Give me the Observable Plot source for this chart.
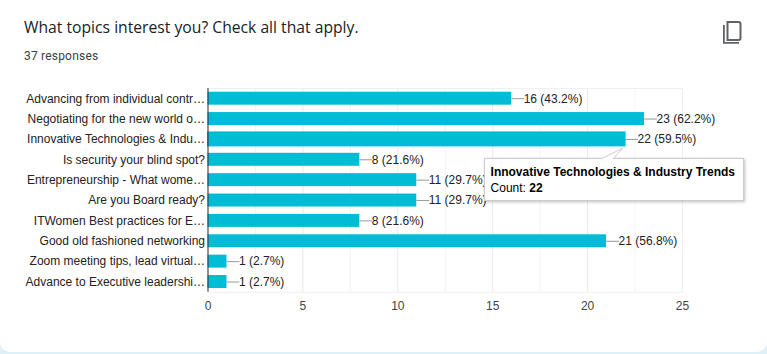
<!DOCTYPE html>
<html>
<head>
<meta charset="utf-8">
<script src="https://cdn.jsdelivr.net/npm/d3@7"></script>
<script src="https://cdn.jsdelivr.net/npm/@observablehq/plot@0.6"></script>
<style>
html,body{margin:0;padding:0;background:#fff;overflow:hidden}
#page{position:relative;width:767px;height:354px;overflow:hidden;background:#dff1f6}
#card{position:absolute;left:0;top:0;width:767px;height:352px;background:#fff;border-radius:0 0 10px 10px}
#title{position:absolute;left:24px;top:16px;font:15.7px "Open Sans",sans-serif;color:#202124;white-space:nowrap}
#sub{position:absolute;left:24px;top:49px;font:12px Roboto,sans-serif;color:#3c4043;white-space:nowrap;letter-spacing:.2px}
#chart{position:absolute;left:0;top:72px}
#chart svg{display:block;background:transparent}
#icon{position:absolute;left:719.5px;top:19.5px}
#tip{position:absolute;background:#fff;border:1px solid #ccc;box-shadow:1px 1px 3px rgba(0,0,0,.25);font:12px "Liberation Sans",Arial,sans-serif;color:#000;padding:5px 6px;line-height:16px;white-space:nowrap;box-sizing:border-box}
#tip b{font-weight:bold}
#ptr{position:absolute;overflow:visible}
</style>
</head>
<body>
<div id="page">
<div id="card"></div>
<div id="title">What topics interest you? Check all that apply.</div>
<div id="sub">37 responses</div>
<svg id="icon" width="24" height="24" viewBox="0 0 24 24"><path fill="#5f6368" d="M3 5h1.8v17H19v1.8H3z"/><path fill="none" stroke="#5f6368" stroke-width="2" d="M7.5 2h11a2 2 0 0 1 2 2v14a2 2 0 0 1-2 2h-11z"/></svg>
<div id="chart"></div>
<div id="tip"></div>
<svg id="ptr" width="24" height="12"><path d="M0 11 L22 0 L12 11" fill="#fff" stroke="#ccc" stroke-width="1"/><path d="M1.5 11.5 H11.5" stroke="#fff" stroke-width="2"/></svg>
</div>
<script>
const labels = ["Advancing from individual contr…","Negotiating for the new world o…","Innovative Technologies & Indu…","Is security your blind spot?","Entrepreneurship - What wome…","Are you Board ready?","ITWomen Best practices for E…","Good old fashioned networking","Zoom meeting tips, lead virtual…","Advance to Executive leadershi…"];
const counts = [16,23,22,8,11,11,8,21,1,1];
const percents = ["43.2","62.2","59.5","21.6","29.7","29.7","21.6","56.8","2.7","2.7"];
const majorTicks = [0,5,10,15,20,25];
const minorTicks = [2.5,7.5,12.5,17.5,22.5];
const highlighted = "Innovative Technologies & Indu…";
const tipTitle = "Innovative Technologies & Industry Trends";

const rows = labels.map((label,i)=>({label,count:counts[i],text:`${counts[i]} (${percents[i]}%)`}));
const font = '"Liberation Sans",Arial,sans-serif';
const line = {draw(ctx,l){ctx.moveTo(0,0);ctx.lineTo(0,-l);}};

const chart = Plot.plot({
  width:767,height:282,
  marginLeft:207.5,marginRight:85,marginTop:16,marginBottom:62.3,
  style:{fontFamily:font,fontSize:"12px",background:"transparent",overflow:"visible"},
  x:{domain:[0,25],ticks:majorTicks,label:null},
  y:{domain:labels,label:null,padding:0,round:false},
  marks:[
    Plot.ruleX(minorTicks,{stroke:"#f3f3f3"}),
    Plot.ruleX(majorTicks,{stroke:"#e9e9e9"}),
    Plot.frame({stroke:"#f0f0f0"}),
    Plot.barX(rows,{x:"count",y:"label",fill:"#00bcd4",insetTop:3.7,insetBottom:3.7}),
    Plot.barX(rows.filter(d=>d.label===highlighted),{x:"count",y:"label",fill:"#00bcd4",stroke:"#00bcd4",strokeWidth:1,insetTop:3.2,insetBottom:3.2,style:{filter:"drop-shadow(0 0 1.5px rgba(0,0,0,.6))"}}),
    Plot.vector(rows,{x:"count",y:"label",length:12,rotate:90,anchor:"start",shape:line,stroke:"#999",strokeWidth:1}),
    Plot.text(rows,{x:"count",y:"label",text:"text",dx:12,textAnchor:"start",fill:"#222",fontSize:12}),
    Plot.ruleX([0],{stroke:"#333"}),
    Plot.axisY({tickSize:0,tickPadding:3,fontSize:12,color:"#222"}),
    Plot.axisX({tickSize:0,tickPadding:9,fontSize:12,color:"#444",anchor:"bottom"})
  ]
});
document.getElementById("chart").append(chart);

const sx = chart.scale("x"), sy = chart.scale("y");
const top0 = 72;
const hi = rows.find(d=>d.label===highlighted);
const tipX = sx.apply(hi.count), tipY = sy.apply(hi.label)+sy.bandwidth+top0;
const tip = document.getElementById("tip");
tip.innerHTML = `<b>${tipTitle}</b><br>Count: <b>${hi.count}</b>`;
tip.style.left=(tipX-141.5)+"px"; tip.style.top=(tipY+9)+"px";
tip.style.width="260px"; tip.style.height="43px";
const ptr=document.getElementById("ptr");
ptr.style.left=(tipX-24)+"px"; ptr.style.top=(tipY-1)+"px";
</script>
</body>
</html>
